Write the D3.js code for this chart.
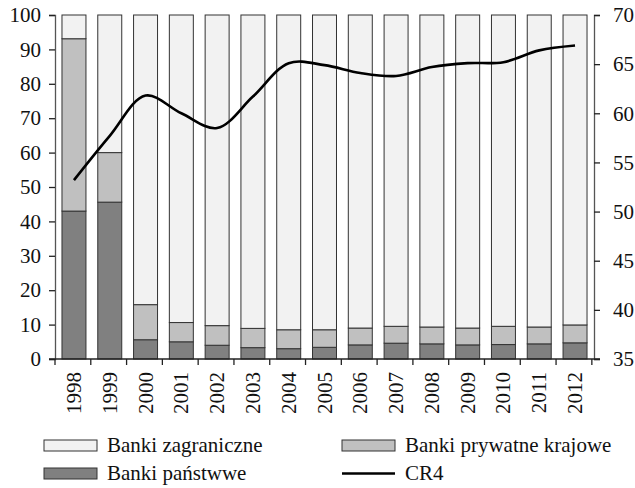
<!DOCTYPE html>
<html><head><meta charset="utf-8">
<script src="https://cdn.jsdelivr.net/npm/d3@7"></script>
<style>
body{margin:0;background:#fff;}
svg{display:block;font-family:"Liberation Serif","Times New Roman",serif;}
</style></head>
<body>
<svg id="chart" width="635" height="488"></svg>
<script>
const years = ["1998","1999","2000","2001","2002","2003","2004","2005","2006","2007","2008","2009","2010","2011","2012"];
const stateBanks = [43.0,45.6,5.6,5.0,4.0,3.3,3.0,3.4,4.1,4.6,4.4,4.1,4.2,4.4,4.7];
const privateBanks = [50.1,14.4,10.2,5.6,5.7,5.6,5.5,5.1,4.9,4.9,4.9,4.9,5.3,4.9,5.2];
const foreignBanks = years.map((y,i)=> +(100 - stateBanks[i] - privateBanks[i]).toFixed(1));
const cr4 = [53.2,57.7,61.8,60.0,58.5,61.7,65.1,64.9,64.1,63.8,64.7,65.1,65.2,66.4,66.9];
const leftTicks = [0,10,20,30,40,50,60,70,80,90,100];
const rightTicks = [35,40,45,50,55,60,65,70];
const seriesNames = ["Banki państwwe","Banki prywatne krajowe","Banki zagraniczne"];
const colors = {"Banki państwwe":"#808080","Banki prywatne krajowe":"#c0c0c0","Banki zagraniczne":"#f2f2f2"};

const svg = d3.select("#chart");
const m = {l:55, r:594, t:15, b:359};
const x = d3.scaleBand().domain(years).range([m.l, m.r]).paddingInner(0.33).paddingOuter(0.195);
const yL = d3.scaleLinear().domain([0,100]).range([m.b, m.t]);
const yR = d3.scaleLinear().domain([35,70]).range([m.b, m.t]);

const rows = years.map((y,i)=>({year:y,"Banki państwwe":stateBanks[i],"Banki prywatne krajowe":privateBanks[i],"Banki zagraniczne":foreignBanks[i]}));
const stack = d3.stack().keys(seriesNames)(rows);

svg.append("g").selectAll("g").data(stack).join("g")
  .attr("fill", d=>colors[d.key])
  .selectAll("rect").data(d=>d).join("rect")
  .attr("x", d=>x(d.data.year))
  .attr("width", x.bandwidth())
  .attr("y", d=>yL(d[1]))
  .attr("height", d=>yL(d[0])-yL(d[1]))
  .attr("stroke","#333")
  .attr("stroke-width",1);

// line
const line = d3.line().x((d,i)=>x(years[i])+x.bandwidth()/2).y(d=>yR(d)).curve(d3.curveCatmullRom.alpha(0.5));
svg.append("path").datum(cr4).attr("d",line).attr("fill","none").attr("stroke","#000").attr("stroke-width",2.6);

// axes
const fs = "21px";
const gL = svg.append("g").attr("transform",`translate(${m.l},0)`)
  .call(d3.axisLeft(yL).tickValues(leftTicks).tickSize(6).tickPadding(8));
const gR = svg.append("g").attr("transform",`translate(${m.r},0)`)
  .call(d3.axisRight(yR).tickValues(rightTicks).tickSize(6).tickPadding(13));
[gL,gR].forEach(g=>{
  g.select(".domain").attr("stroke","#555").attr("stroke-width",1.3);
  g.selectAll(".tick line").attr("stroke","#222").attr("stroke-width",1.3);
  g.selectAll("text").attr("font-size",fs).attr("font-family","Liberation Serif").attr("fill","#111");
});

// x axis with ticks at band boundaries
const gX = svg.append("g").attr("transform",`translate(0,${m.b})`);
gX.append("line").attr("x1",m.l-6).attr("x2",m.r+6).attr("stroke","#222").attr("stroke-width",1.3);
const step = x.step();
const bounds = d3.range(years.length+1).map(i=>m.l + i*step);
gX.selectAll("line.tk").data(bounds).join("line").attr("class","tk")
  .attr("x1",d=>d).attr("x2",d=>d).attr("y1",0).attr("y2",6).attr("stroke","#222").attr("stroke-width",1.3);
gX.selectAll("text").data(years).join("text")
  .attr("transform",d=>`translate(${x(d)+x.bandwidth()/2+7},13) rotate(-90)`)
  .attr("text-anchor","end")
  .attr("font-size",fs).attr("fill","#111")
  .text(d=>d);

// legend
const lg = svg.append("g").attr("font-size","21px").attr("fill","#111");
const items = [
  {name:"Banki zagraniczne", x:44, y:445.5, type:"rect"},
  {name:"Banki prywatne krajowe", x:342, y:445.5, type:"rect"},
  {name:"Banki państwwe", x:44, y:473.5, type:"rect"},
  {name:"CR4", x:342, y:473.5, type:"line"}
];
items.forEach(it=>{
  if(it.type==="rect"){
    lg.append("rect").attr("x",it.x).attr("y",it.y-5.5).attr("width",53).attr("height",11)
      .attr("fill",colors[it.name]).attr("stroke","#333").attr("stroke-width",1);
  } else {
    lg.append("line").attr("x1",it.x).attr("x2",it.x+53).attr("y1",it.y).attr("y2",it.y).attr("stroke","#000").attr("stroke-width",2.5);
  }
  lg.append("text").attr("x",it.x+63).attr("y",it.y+6.5).text(it.name);
});
</script>
</body></html>
